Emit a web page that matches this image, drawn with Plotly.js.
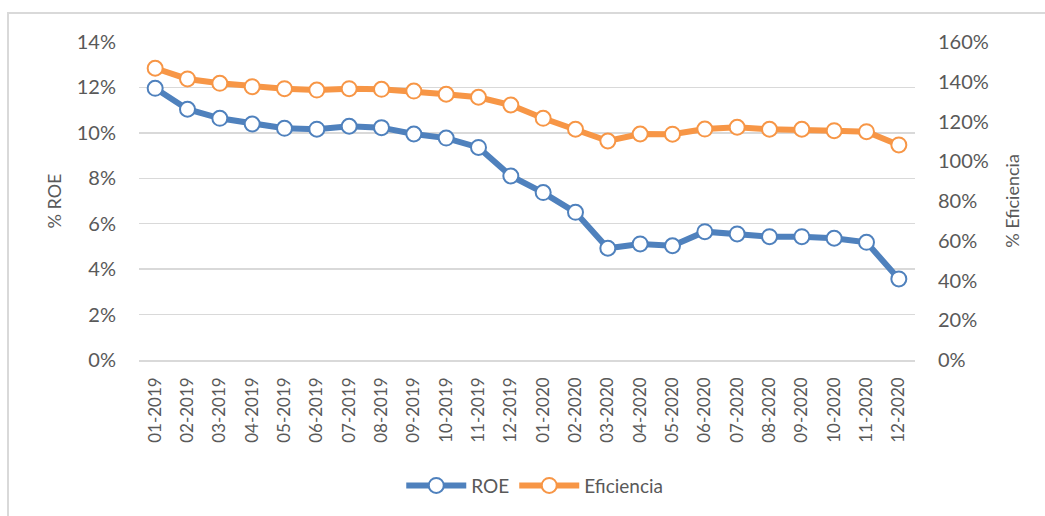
<!DOCTYPE html>
<html>
<head>
<meta charset="utf-8">
<script src="https://cdn.plot.ly/plotly-3.0.1.min.js"></script>
<style>
  html, body { margin: 0; padding: 0; background: #fff; }
  #frame { position: absolute; left: 7px; top: 12px; width: 1100px; height: 600px;
           border-left: 2px solid #d9d9d9; border-top: 2px solid #d9d9d9; pointer-events: none; z-index: 5; }
  #chart { position: absolute; left: 0; top: 0; width: 1045px; height: 516px; }
</style>
</head>
<body>
<div id="chart"></div>
<div id="frame"></div>
<script>
const months = ["01-2019","02-2019","03-2019","04-2019","05-2019","06-2019","07-2019","08-2019","09-2019","10-2019","11-2019","12-2019",
                "01-2020","02-2020","03-2020","04-2020","05-2020","06-2020","07-2020","08-2020","09-2020","10-2020","11-2020","12-2020"];
const roe = [11.96, 11.04, 10.64, 10.39, 10.20, 10.16, 10.29, 10.23, 9.95, 9.77, 9.36, 8.10,
             7.37, 6.50, 4.92, 5.11, 5.03, 5.65, 5.55, 5.43, 5.43, 5.36, 5.18, 3.57];
const eficiencia = [146.8, 141.4, 139.2, 137.5, 136.5, 135.8, 136.5, 136.2, 135.3, 133.7, 132.2, 128.3,
                    121.6, 116.1, 110.2, 113.7, 113.6, 116.2, 117.1, 116.1, 116.1, 115.4, 114.9, 108.2];
const leftTicks = [0, 2, 4, 6, 8, 10, 12, 14];
const rightTicks = [0, 20, 40, 60, 80, 100, 120, 140, 160];

const FONT = "Lato, 'Open Sans', sans-serif";
const GRAY = "#595959";

const traces = [
  { x: months, y: roe, name: "ROE", type: "scatter", mode: "lines+markers", yaxis: "y",
    line: { color: "#4F81BD", width: 6 },
    marker: { symbol: "circle", size: 15, color: "#ffffff", line: { color: "#4F81BD", width: 2 } } },
  { x: months, y: eficiencia, name: "Eficiencia", type: "scatter", mode: "lines+markers", yaxis: "y2",
    line: { color: "#F79646", width: 6 },
    marker: { symbol: "circle", size: 15, color: "#ffffff", line: { color: "#F79646", width: 2 } } }
];

const layout = {
  width: 1045, height: 516,
  margin: { l: 139, r: 130, t: 42, b: 156, pad: 0 },
  paper_bgcolor: "#ffffff", plot_bgcolor: "#ffffff",
  font: { family: FONT, color: GRAY, size: 18 },
  showlegend: true,
  legend: { orientation: "h", x: 0.51, xanchor: "center", y: -0.395, yanchor: "middle",
            font: { family: FONT, size: 19, color: GRAY }, itemwidth: 60, traceorder: "normal" },
  xaxis: {
    type: "category", range: [-0.5, 23.5], autorange: false,
    tickangle: -90, tickfont: { family: FONT, size: 17, color: GRAY },
    showgrid: false, showline: true, linecolor: "#d9d9d9", linewidth: 1.5,
    ticks: "", ticklabelstandoff: 9, zeroline: false, fixedrange: true
  },
  yaxis: {
    range: [0, 14], tickvals: leftTicks, ticktext: leftTicks.map(v => v + "%"),
    showgrid: true, gridcolor: "#d9d9d9", gridwidth: 1.5, zeroline: false, showline: false,
    ticks: "", ticklabelstandoff: 22, tickfont: { family: FONT, size: 20, color: GRAY },
    title: { text: "% ROE", font: { family: FONT, size: 18, color: GRAY }, standoff: 10 }
  },
  yaxis2: {
    range: [0, 160], tickvals: rightTicks, ticktext: rightTicks.map(v => v + "%"),
    overlaying: "y", side: "right", showgrid: false, zeroline: false, showline: false,
    ticks: "", ticklabelstandoff: 22, tickfont: { family: FONT, size: 20, color: GRAY },
    title: { text: "% Eficiencia", font: { family: FONT, size: 18, color: GRAY }, standoff: 18 }
  }
};

Plotly.newPlot("chart", traces, layout, { displayModeBar: false, staticPlot: true });
</script>
</body>
</html>
